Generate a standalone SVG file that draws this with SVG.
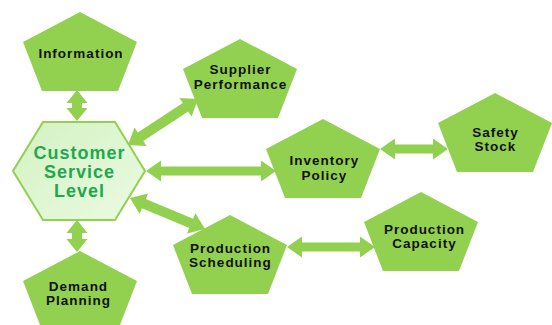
<svg xmlns="http://www.w3.org/2000/svg" xmlns:xlink="http://www.w3.org/1999/xlink" width="552" height="325" viewBox="0 0 552 325">
<style>
.pent{fill:#92d050;}
.arrow{fill:#92d050;}
.lbl{font-family:"Liberation Sans",Arial,sans-serif;font-weight:bold;font-size:13.5px;letter-spacing:1px;fill:#111;text-anchor:middle;}
.hlbl{font-family:"Liberation Sans",Arial,sans-serif;font-weight:bold;font-size:18px;letter-spacing:1px;fill:#1fa84f;text-anchor:middle;}
</style>
<defs>
<polygon id="pent" points="0,0 57,30 38,79 -38,79 -57,30"/>
<linearGradient id="hexg" x1="0" y1="0" x2="1" y2="1">
<stop offset="0" stop-color="#d3f1c2"/>
<stop offset="1" stop-color="#ebfbe2"/>
</linearGradient>
</defs>
<rect width="552" height="325" fill="#ffffff"/>
<g id="connectors">
<path class="arrow" transform="translate(77,90) rotate(90)" d="M0,0 L13,-10.5 L13,-5 L18,-5 L18,-10.5 L31,0 L18,10.5 L18,5 L13,5 L13,10.5 Z"/>
<path class="arrow" transform="translate(77,220) rotate(90)" d="M0,0 L13,-10.5 L13,-5 L19,-5 L19,-10.5 L32,0 L19,10.5 L19,5 L13,5 L13,10.5 Z"/>
<path class="arrow" transform="translate(128,145) rotate(-33.3)" d="M0,0 L15,-11 L15,-5 L68.8,-5 L68.8,-11 L83.8,0 L68.8,11 L68.8,5 L15,5 L15,11 Z"/>
<path class="arrow" transform="translate(146,171)" d="M0,0 L15,-10.5 L15,-4.5 L115,-4.5 L115,-10.5 L130,0 L115,10.5 L115,4.5 L15,4.5 L15,10.5 Z"/>
<path class="arrow" transform="translate(130,198) rotate(22.5)" d="M0,0 L15,-11 L15,-5 L66.2,-5 L66.2,-11 L81.2,0 L66.2,11 L66.2,5 L15,5 L15,11 Z"/>
<path class="arrow" transform="translate(380,149)" d="M0,0 L15,-10.5 L15,-4.5 L53,-4.5 L53,-10.5 L68,0 L53,10.5 L53,4.5 L15,4.5 L15,10.5 Z"/>
<path class="arrow" transform="translate(287,247)" d="M0,0 L15,-10.5 L15,-4.5 L73,-4.5 L73,-10.5 L88,0 L73,10.5 L73,4.5 L15,4.5 L15,10.5 Z"/>
</g>
<g id="customer-service-level">
<polygon points="43,122 115,122 145,171 115,220 43,220 13,171" fill="url(#hexg)" stroke="#92d050" stroke-width="2"/>
<text class="hlbl" x="79.5" y="159">Customer</text>
<text class="hlbl" x="79.5" y="178">Service</text>
<text class="hlbl" x="79.5" y="196.5">Level</text>
</g>
<g id="information">
<use href="#pent" class="pent" x="80" y="12"/>
<text class="lbl" x="81" y="58">Information</text>
</g>
<g id="supplier-performance">
<use href="#pent" class="pent" x="240" y="39"/>
<text class="lbl" x="240.5" y="74">Supplier</text>
<text class="lbl" x="240.5" y="88.5">Performance</text>
</g>
<g id="inventory-policy">
<use href="#pent" class="pent" x="323" y="119"/>
<text class="lbl" x="324.5" y="165">Inventory</text>
<text class="lbl" x="324.5" y="179.5">Policy</text>
</g>
<g id="safety-stock">
<use href="#pent" class="pent" x="495" y="93"/>
<text class="lbl" x="495.5" y="137">Safety</text>
<text class="lbl" x="495.5" y="151">Stock</text>
</g>
<g id="production-capacity">
<use href="#pent" class="pent" x="421" y="192"/>
<text class="lbl" x="424.5" y="234">Production</text>
<text class="lbl" x="424.5" y="248">Capacity</text>
</g>
<g id="production-scheduling">
<use href="#pent" class="pent" x="230" y="215"/>
<text class="lbl" x="230.5" y="253">Production</text>
<text class="lbl" x="230.5" y="267">Scheduling</text>
</g>
<g id="demand-planning">
<use href="#pent" class="pent" x="80" y="251"/>
<text class="lbl" x="78.5" y="291">Demand</text>
<text class="lbl" x="78.5" y="305">Planning</text>
</g>
</svg>
